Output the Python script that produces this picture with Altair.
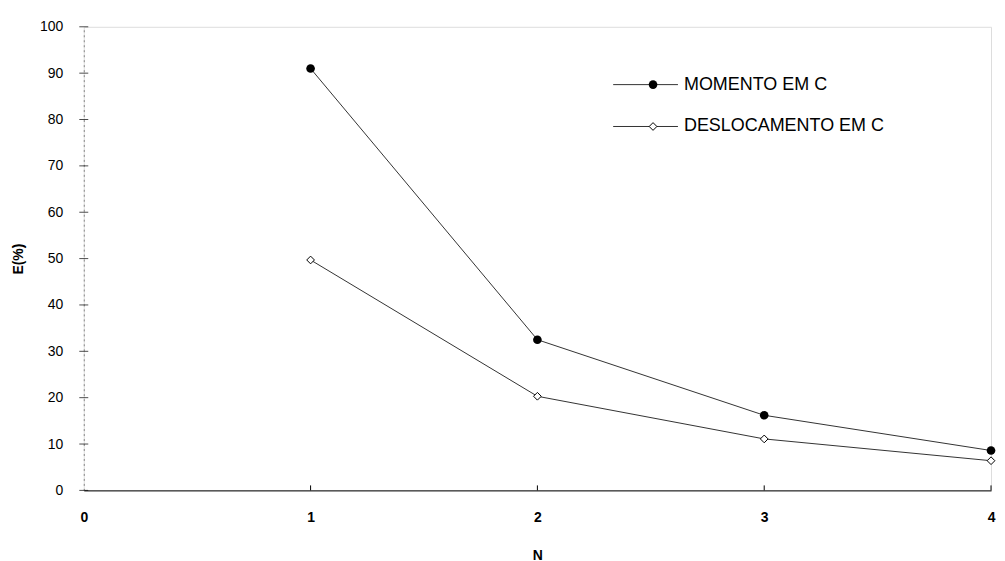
import altair as alt
import pandas as pd

n_values = [1, 2, 3, 4]
momento = [91.0, 32.5, 16.2, 8.6]
deslocamento = [49.7, 20.3, 11.1, 6.4]
series_names = ["MOMENTO EM C", "DESLOCAMENTO EM C"]
y_ticks = [0, 10, 20, 30, 40, 50, 60, 70, 80, 90, 100]
x_ticks = [0, 1, 2, 3, 4]

rows = []
for n, m, d in zip(n_values, momento, deslocamento):
    rows.append({"N": n, "E": m, "serie": series_names[0]})
    rows.append({"N": n, "E": d, "serie": series_names[1]})
df = pd.DataFrame(rows)

FONT = "Liberation Sans"

x_enc = alt.X("N:Q", scale=alt.Scale(domain=[0, 4], nice=False),
              axis=alt.Axis(values=x_ticks, title="N", format="d",
                            domainColor="black", domainWidth=1, ticks=False,
                            labelFlush=False,
                            labelPadding=20, labelFontWeight="bold",
                            labelFontSize=14, labelFont=FONT, labelColor="black",
                            titleFont=FONT, titleFontSize=14, titleFontWeight="bold",
                            titlePadding=24, titleColor="black", grid=False))
y_enc = alt.Y("E:Q", scale=alt.Scale(domain=[0, 100], nice=False),
              axis=alt.Axis(values=y_ticks, title="E(%)", ticks=False,
                            labelFlush=False,
                            domainColor="#888888", domainDash=[2, 3], domainWidth=1,
                            labelPadding=21, labelFontSize=14, labelFont=FONT,
                            labelColor="black",
                            titleFont=FONT, titleFontSize=14, titleFontWeight="bold",
                            titlePadding=14, titleColor="black", grid=False))

base = alt.Chart(df)

lines = base.mark_line(color="#333333", strokeWidth=1).encode(
    x=x_enc, y=y_enc, detail="serie:N")

pts_m = base.transform_filter(alt.datum.serie == series_names[0]).mark_point(
    shape="circle", filled=True, color="black", size=75, opacity=1).encode(
    x="N:Q", y="E:Q")
pts_d = base.transform_filter(alt.datum.serie == series_names[1]).mark_point(
    shape="diamond", filled=True, fill="white", stroke="black", strokeWidth=1,
    size=60, opacity=1).encode(x="N:Q", y="E:Q")

# crossing tick marks on the y axis
ytick_df = pd.DataFrame({"E": y_ticks, "N": [0] * len(y_ticks)})
yticks = alt.Chart(ytick_df).mark_tick(color="black", size=9, thickness=1,
                                       orient="horizontal").encode(
    x="N:Q", y="E:Q")
# upward tick marks on the x axis
xtick_df = pd.DataFrame({"N": x_ticks[1:], "E": [0] * (len(x_ticks) - 1)})
xticks = alt.Chart(xtick_df).mark_rule(color="black", strokeWidth=1).encode(
    x="N:Q", y="E:Q", y2=alt.value(460))

# manual legend (pixel placement inside the plot area)
leg_df = pd.DataFrame({"serie": series_names})
leg_y = [58, 100]
layers = [lines, yticks, xticks, pts_m, pts_d]
for i, name in enumerate(series_names):
    sub = alt.Chart(leg_df).transform_filter(alt.datum.serie == name)
    layers.append(sub.mark_rule(color="#333333", strokeWidth=1).encode(
        x=alt.value(531), x2=alt.value(596), y=alt.value(leg_y[i])))
    if i == 0:
        layers.append(sub.mark_point(shape="circle", filled=True, color="black",
                                     size=75, opacity=1).encode(
            x=alt.value(571), y=alt.value(leg_y[i])))
    else:
        layers.append(sub.mark_point(shape="diamond", filled=True, fill="white",
                                     stroke="black", strokeWidth=1, size=60,
                                     opacity=1).encode(
            x=alt.value(571), y=alt.value(leg_y[i])))
    layers.append(sub.mark_text(align="left", baseline="middle", font=FONT,
                                fontSize=18, color="black").encode(
        x=alt.value(602), y=alt.value(leg_y[i]), text="serie:N"))

chart = alt.layer(*layers).properties(
    width=910, height=465,
    autosize=alt.AutoSizeParams(type="none"),
    padding={"left": 76, "top": 18, "right": 6, "bottom": 76},
).configure_view(stroke=None).configure(background="white")

chart.save("out.html", embed_options={"renderer": "svg", "actions": False})
